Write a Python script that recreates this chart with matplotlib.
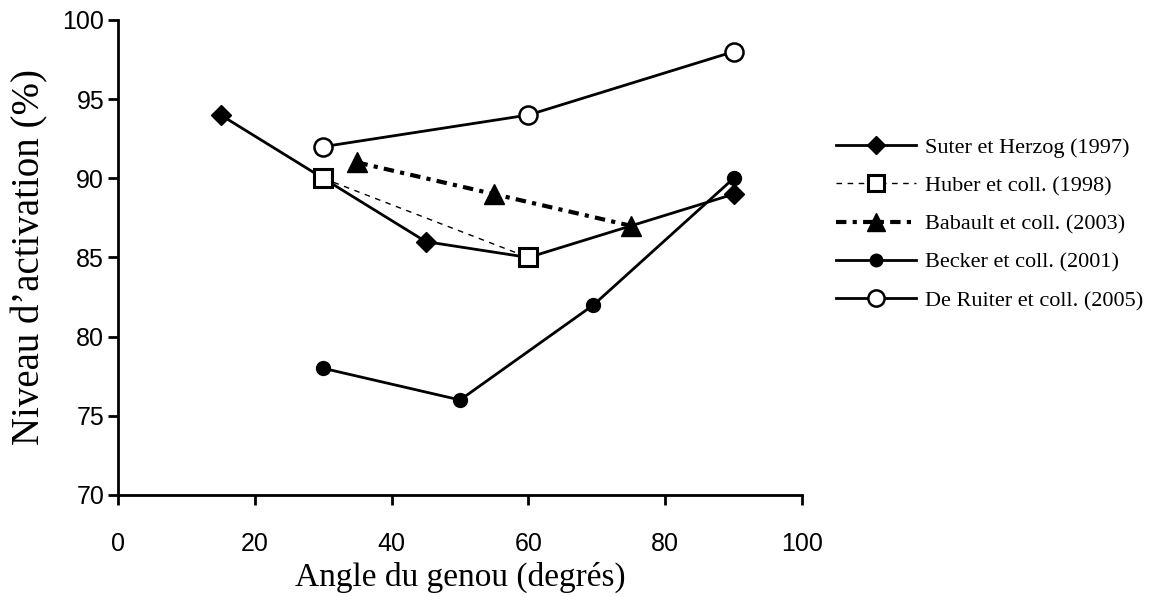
import matplotlib
matplotlib.use('Agg')
import matplotlib.pyplot as plt

# data
suter_x = [15, 30, 45, 60, 90]
suter_y = [94, 90, 86, 85, 89]
huber_x = [30, 60]
huber_y = [90, 85]
babault_x = [35, 55, 75]
babault_y = [91, 89, 87]
becker_x = [30, 50, 69.5, 90]
becker_y = [78, 76, 82, 90]
ruiter_x = [30, 60, 90]
ruiter_y = [92, 94, 98]

fig = plt.figure(figsize=(11.7, 5.97), dpi=100)
ax = fig.add_axes([0.1009, 0.1709, 0.5846, 0.7956])

ax.plot(suter_x, suter_y, color='black', lw=2, marker='D', ms=10, mfc='black',
        label='Suter et Herzog (1997)')
ax.plot(huber_x, huber_y, color='black', lw=1, ls=(0, (4, 4)), marker='s', ms=13,
        mfc='white', mew=2.2, label='Huber et coll. (1998)')
ax.plot(babault_x, babault_y, color='black', lw=3, ls=(0, (2.5, 1.5, 1, 1.5)), marker='^',
        ms=15, mfc='black', label='Babault et coll. (2003)')
ax.plot(becker_x, becker_y, color='black', lw=2, marker='o', ms=10, mfc='black',
        label='Becker et coll. (2001)')
ax.plot(ruiter_x, ruiter_y, color='black', lw=2, marker='o', ms=13, mfc='white',
        mew=1.8, label='De Ruiter et coll. (2005)')

ax.set_xlim(0, 100)
ax.set_ylim(70, 100)
ax.set_xticks([0, 20, 40, 60, 80, 100])
ax.set_yticks([70, 75, 80, 85, 90, 95, 100])
ax.spines['top'].set_visible(False)
ax.spines['right'].set_visible(False)
ax.spines['left'].set_linewidth(2)
ax.spines['bottom'].set_linewidth(2)
ax.tick_params(direction='out', length=7, width=2, labelsize=18)
ax.tick_params(axis='x', pad=20)
ax.tick_params(axis='y', pad=3)
for lab in ax.get_xticklabels() + ax.get_yticklabels():
    lab.set_family('Liberation Sans')

ax.set_xlabel('Angle du genou (degrés)', fontsize=24, family='Liberation Serif', labelpad=4)
ax.set_ylabel('Niveau d\u2019activation (%)', fontsize=28, family='Liberation Serif', labelpad=10)

ax.legend(loc='center left', bbox_to_anchor=(1.02, 0.57), frameon=False,
          prop={'family': 'Liberation Serif', 'size': 16}, handlelength=3.6,
          labelspacing=0.8, handletextpad=0.4, markerscale=0.9)

fig.savefig('out.png', dpi=100)
